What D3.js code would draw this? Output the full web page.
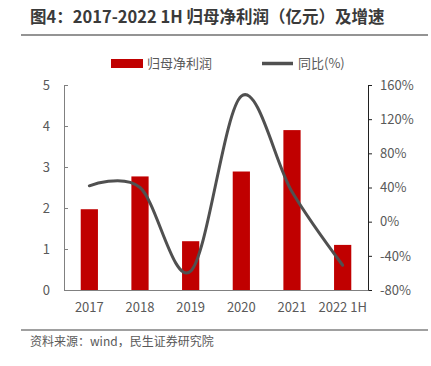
<!DOCTYPE html>
<html>
<head>
<meta charset="utf-8">
<script src="https://cdn.jsdelivr.net/npm/d3@7"></script>
<style>
  body { margin: 0; background: #fff; }
  text { font-family: "Noto Sans CJK SC", "Open Sans", sans-serif; }
</style>
</head>
<body>
<svg id="chart" width="431" height="366"></svg>
<script>
const categories = ["2017", "2018", "2019", "2020", "2021", "2022 1H"];
const profit = [1.97, 2.77, 1.19, 2.89, 3.9, 1.1];
const growth = [42, 40, -58, 147, 35, -51];
const leftTicks = [0, 1, 2, 3, 4, 5];
const rightTicks = [-80, -40, 0, 40, 80, 120, 160];

const svg = d3.select("#chart");
const margin = {top: 85, right: 63, bottom: 76, left: 64};
const width = 431, height = 366;
const innerW = width - margin.left - margin.right,
    innerH = height - margin.top - margin.bottom;
const grey = "#595959";

// title
svg.append("text")
    .attr("x", 30).attr("y", 23)
    .style("font-size", "16.5px").style("font-weight", "bold")
    .attr("fill", "#3a3a3a")
    .text("图4：2017-2022 1H 归母净利润（亿元）及增速");
svg.append("line")
    .attr("x1", 21).attr("x2", 428).attr("y1", 35).attr("y2", 35)
    .attr("stroke", "#707070").attr("stroke-width", 1.5);

const g = svg.append("g").attr("transform", `translate(${margin.left},${margin.top})`);

const x = d3.scaleBand().domain(categories).range([0, innerW]).paddingInner(0.66).paddingOuter(0.33);
const y = d3.scaleLinear().domain([0, 5]).range([innerH, 0]);
const y2 = d3.scaleLinear().domain([-80, 160]).range([innerH, 0]);

g.selectAll(".bar")
    .data(categories)
    .join("rect")
    .attr("class", "bar")
    .attr("x", d => x(d))
    .attr("width", x.bandwidth())
    .attr("y", (d, i) => y(profit[i]))
    .attr("height", (d, i) => innerH - y(profit[i]))
    .attr("fill", "#C00000");

const line = d3.line()
    .x((d, i) => x(categories[i]) + x.bandwidth() / 2)
    .y(d => y2(d))
    .curve(d3.curveCatmullRom.alpha(0));

g.append("path")
    .datum(growth)
    .attr("d", line)
    .attr("fill", "none")
    .attr("stroke", "#505050")
    .attr("stroke-width", 3)
    .attr("stroke-linecap", "round");

// left axis
const leftAxis = g.append("g")
    .call(d3.axisLeft(y).tickValues(leftTicks).tickSize(-4).tickPadding(14).tickFormat(d3.format("d")));
leftAxis.select(".domain").attr("stroke", "#808080");
leftAxis.selectAll(".tick line").attr("stroke", "#808080");

// right axis
const rightAxis = g.append("g")
    .attr("transform", `translate(${innerW},0)`)
    .call(d3.axisRight(y2).tickValues(rightTicks).tickSize(4).tickPadding(8).tickFormat(d => d + "%"));
rightAxis.select(".domain").attr("stroke", "#202020");
rightAxis.selectAll(".tick line").attr("stroke", "#202020");

// bottom axis
const bottomAxis = g.append("g")
    .attr("transform", `translate(0,${innerH})`)
    .call(d3.axisBottom(x).tickSize(0).tickPadding(13));
bottomAxis.select(".domain").attr("stroke", "#808080");

g.selectAll(".tick text")
    .style("font-size", "13px")
    .attr("fill", grey);

// legend
const legend = svg.append("g");
legend.append("rect")
    .attr("x", 111).attr("y", 59).attr("width", 32).attr("height", 9)
    .attr("fill", "#C00000");
legend.append("text")
    .attr("x", 147).attr("y", 68)
    .style("font-size", "13px").attr("fill", grey)
    .text("归母净利润");
legend.append("line")
    .attr("x1", 262).attr("x2", 293).attr("y1", 63.5).attr("y2", 63.5)
    .attr("stroke", "#505050").attr("stroke-width", 3.5);
legend.append("text")
    .attr("x", 298).attr("y", 68)
    .style("font-size", "13px").attr("fill", grey)
    .text("同比(%)");

// source
svg.append("line")
    .attr("x1", 21).attr("x2", 428).attr("y1", 330).attr("y2", 330)
    .attr("stroke", "#808080").attr("stroke-width", 1.5);
svg.append("text")
    .attr("x", 30).attr("y", 346)
    .style("font-size", "12px").attr("fill", grey)
    .text("资料来源：wind，民生证券研究院");
</script>
</body>
</html>
